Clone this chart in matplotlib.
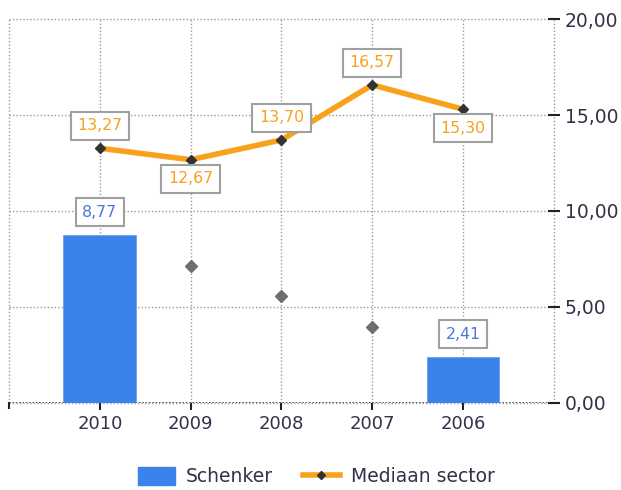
import numpy as np
import matplotlib
matplotlib.use("Agg")
import matplotlib.pyplot as plt
from matplotlib.lines import Line2D
from matplotlib.patches import Patch

years = ["2010", "2009", "2008", "2007", "2006"]
schenker = [8.77, np.nan, np.nan, np.nan, 2.41]
mediaan = [13.27, 12.67, 13.70, 16.57, 15.30]
grey_points = [np.nan, 7.14, 5.57, 3.97, np.nan]
y_ticks = [0, 5, 10, 15, 20]
mediaan_label_side = ["above", "below", "above", "above", "below"]

BLUE = "#3b82ea"
ORANGE = "#f8a11c"
TEXT = "#35304a"
GRID = "#9a9a9a"

def fmt(v):
    return f"{v:.2f}".replace(".", ",")

fig = plt.figure(figsize=(6.21, 4.90), dpi=100)
ax = fig.add_axes([0.0145, 0.178, 0.8775, 0.783])

x = np.arange(len(years))
ax.set_xlim(-1, len(years))
ax.set_ylim(0, 20)

# gridlines
for yt in y_ticks:
    ax.axhline(yt, color=GRID, linestyle=(0, (1, 1.5)), linewidth=1, zorder=0, clip_on=False)
for xv in list(x) + [-1, len(years)]:
    ax.axvline(xv, color=GRID, linestyle=(0, (1, 1.5)), linewidth=1, zorder=0, clip_on=False)

for s in ax.spines.values():
    s.set_visible(False)

# bars
sch = np.array(schenker, dtype=float)
ax.bar(x, np.nan_to_num(sch), width=0.8, color=BLUE, zorder=2,
       edgecolor="#6aa0f0", linewidth=0.6)

# grey markers
ax.plot(x, grey_points, linestyle="none", marker="D", markersize=6,
        color="#6e6e6e", zorder=3)

# median line
ax.plot(x, mediaan, color=ORANGE, linewidth=4, zorder=4, solid_capstyle="butt")
ax.plot(x, mediaan, linestyle="none", marker="D", markersize=5,
        color="#333333", zorder=5)

box = dict(boxstyle="square,pad=0.42", facecolor="white", edgecolor="#a0a0a0", linewidth=1.5)

for xi, v, side in zip(x, mediaan, mediaan_label_side):
    dy = 16 if side == "above" else -13.7
    ax.annotate(fmt(v), (xi, v), xytext=(0, dy), textcoords="offset points",
                ha="center", va="center", fontsize=11.3, color=ORANGE,
                bbox=box, zorder=6)

for xi, v in zip(x, sch):
    if np.isnan(v):
        continue
    ax.annotate(fmt(v), (xi, v), xytext=(0, 16), textcoords="offset points",
                ha="center", va="center", fontsize=11.3, color="#4a78d8",
                bbox=box, zorder=6)

# axes ticks
ax.yaxis.tick_right()
ax.set_yticks(y_ticks)
ax.set_yticklabels([fmt(v) for v in y_ticks], fontsize=13.5, color=TEXT)
ax.tick_params(axis="y", direction="inout", length=8, width=1.5, color="#222222", pad=4)

ax.set_xticks(list(x))
ax.set_xticklabels(years, fontsize=13, color=TEXT)
ax.tick_params(axis="x", direction="out", length=5, width=1.5, color="#222222", pad=4)
ax.axhline(0, color="#444444", linestyle=(0, (1, 1)), linewidth=1.2, zorder=1)
ax.plot([-1, -1], [0, -0.25], color="#222222", lw=1.5, clip_on=False)

handles = [
    Patch(facecolor=BLUE, edgecolor=BLUE),
    Line2D([0], [0], color=ORANGE, lw=4, marker="D", markersize=4,
           markerfacecolor="#333333", markeredgecolor="#333333"),
]
leg = fig.legend(handles, ["Schenker", "Mediaan sector"], loc="center",
                 bbox_to_anchor=(0.509, 0.027), ncol=2, frameon=False,
                 fontsize=13.5, handlelength=2.0, handleheight=1.1,
                 columnspacing=1.6, handletextpad=0.55)
for t in leg.get_texts():
    t.set_color(TEXT)

fig.savefig("out.png", dpi=100)
